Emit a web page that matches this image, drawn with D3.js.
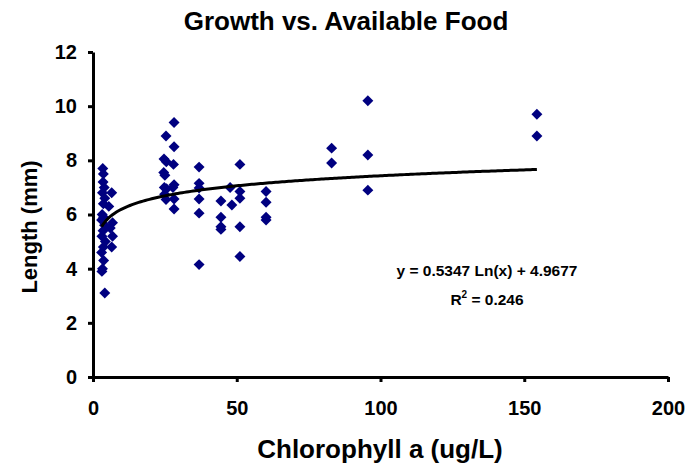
<!DOCTYPE html>
<html>
<head>
<meta charset="utf-8">
<script src="https://cdn.jsdelivr.net/npm/d3@7"></script>
<style>
  body { margin: 0; background: #fff; }
  text { font-family: "Liberation Sans", Arial, sans-serif; font-weight: bold; fill: #000; }
</style>
</head>
<body>
<div id="chart"></div>
<script>
// ########## data #######
var chlorophyll = [
  3.4, 3.6, 3.5, 3.9, 3.3, 4.1, 3.6, 3.2, 3.7, 3.0, 4.0, 3.5, 3.1, 4.3, 3.6, 3.0, 3.7, 3.3, 3.1, 4.1,
  6.5, 5.5, 6.8, 6.0, 6.8, 6.5,
  25.4, 24.7, 25.5, 24.6, 25.0, 24.8, 25.6, 25.4, 24.9,
  28.2, 28.2, 28.0, 28.2, 27.8, 28.2, 28.2,
  36.9, 36.9, 36.9, 36.9, 36.9, 36.9,
  44.5, 44.5, 44.5, 44.5, 47.7, 48.3,
  51.1, 51.1, 51.1, 51.1, 51.1,
  60.2, 60.2, 60.2, 60.2,
  83.0, 83.0,
  95.6, 95.6, 95.6,
  154.4, 154.4
];
var lengthMm = [
  7.7, 7.5, 7.2, 7.0, 6.8, 6.6, 6.4, 6.0, 5.9, 5.8, 5.6, 5.4, 5.2, 5.0, 4.8, 4.6, 4.3, 4.0, 3.9, 3.1,
  6.8, 6.3, 5.7, 5.5, 5.2, 4.8,
  8.9, 8.05, 7.95, 7.55, 7.45, 7.0, 6.95, 6.55, 6.75,
  9.4, 8.5, 7.85, 7.1, 7.0, 6.57, 6.2,
  7.75, 7.15, 6.98, 6.57, 6.05, 4.15,
  6.5, 5.9, 5.55, 5.45, 7.0, 6.35,
  7.85, 6.85, 6.6, 5.55, 4.45,
  6.85, 6.45, 5.9, 5.8,
  8.45, 7.9,
  10.2, 8.2, 6.9,
  9.7, 8.9
];
var xTicks = [0, 50, 100, 150, 200];
var yTicks = [0, 2, 4, 6, 8, 10, 12];
// logarithmic trend line: y = a ln(x) + b
var trendA = 0.5347;
var trendB = 4.9677;
var trendLabel = "y = 0.5347 Ln(x) + 4.9677";
var r2Value = "0.246";

var attrs = {
  svgWidth: 695,
  svgHeight: 468,
  marginTop: 52,
  marginBottom: 91,
  marginLeft: 93,
  marginRight: 27,
  markerColor: "#000080",
  title: "Growth vs. Available Food",
  xTitle: "Chlorophyll a (ug/L)",
  yTitle: "Length (mm)"
};

var calc = {};
calc.chartWidth = attrs.svgWidth - attrs.marginLeft - attrs.marginRight;
calc.chartHeight = attrs.svgHeight - attrs.marginTop - attrs.marginBottom;

var points = chlorophyll.map(function (d, i) {
  return { x: d, y: lengthMm[i] };
});

// ########## scales #######
var x = d3.scaleLinear().domain([0, 200]).range([0, calc.chartWidth]);
var y = d3.scaleLinear().domain([0, 12]).range([calc.chartHeight, 0]);

var svg = d3.select("#chart").append("svg")
  .attr("width", attrs.svgWidth)
  .attr("height", attrs.svgHeight);

// title
svg.append("text")
  .attr("x", 346)
  .attr("y", 30)
  .attr("text-anchor", "middle")
  .style("font-size", "26px")
  .text(attrs.title);

var chart = svg.append("g")
  .attr("transform", "translate(" + attrs.marginLeft + "," + attrs.marginTop + ")");

// ########## axes #######
var xAxis = chart.append("g")
  .attr("class", "x-axis")
  .attr("transform", "translate(0," + calc.chartHeight + ")")
  .call(d3.axisBottom(x).tickValues(xTicks).tickSize(5).tickSizeOuter(0).tickPadding(19));

var yAxis = chart.append("g")
  .attr("class", "y-axis")
  .call(d3.axisLeft(y).tickValues(yTicks).tickSize(5).tickSizeOuter(0).tickPadding(11));

chart.selectAll(".x-axis .domain, .y-axis .domain")
  .attr("stroke", "#000")
  .attr("stroke-width", 3);
chart.selectAll(".tick line")
  .attr("stroke", "#000")
  .attr("stroke-width", 3);
chart.selectAll(".tick text")
  .attr("fill", "#000")
  .style("font-size", "20px")
  .style("font-family", "'Liberation Sans', Arial, sans-serif")
  .style("font-weight", "bold");

// axis titles
svg.append("text")
  .attr("x", 380)
  .attr("y", 458)
  .attr("text-anchor", "middle")
  .style("font-size", "26px")
  .text(attrs.xTitle);

svg.append("text")
  .attr("transform", "translate(37,227) rotate(-90)")
  .attr("text-anchor", "middle")
  .style("font-size", "22px")
  .text(attrs.yTitle);

// ########## trend line #######
var xMin = d3.min(chlorophyll);
var xMax = d3.max(chlorophyll);
var trendData = d3.range(0, 201).map(function (i) {
  var xv = xMin + (xMax - xMin) * i / 200;
  return { x: xv, y: trendA * Math.log(xv) + trendB };
});

var line = d3.line()
  .x(function (d) { return x(d.x); })
  .y(function (d) { return y(d.y); });

// ########## markers #######
var diamond = d3.symbol().type(d3.symbolSquare).size(60);

chart.append("g")
  .attr("class", "points")
  .selectAll("path")
  .data(points)
  .enter()
  .append("path")
  .attr("d", diamond)
  .attr("transform", function (d) {
    return "translate(" + x(d.x) + "," + y(d.y) + ") rotate(45)";
  })
  .attr("fill", attrs.markerColor);

chart.append("path")
  .datum(trendData)
  .attr("fill", "none")
  .attr("stroke", "#000")
  .attr("stroke-width", 3)
  .attr("d", line);

// equation label
var eq = svg.append("text")
  .attr("x", 487)
  .attr("y", 276)
  .attr("text-anchor", "middle")
  .style("font-size", "15.5px")
  .text(trendLabel);

var r2 = svg.append("text")
  .attr("x", 487)
  .attr("y", 305)
  .attr("text-anchor", "middle")
  .style("font-size", "15.5px");
r2.append("tspan").text("R");
r2.append("tspan").attr("dy", -7).style("font-size", "10px").text("2");
r2.append("tspan").attr("dy", 7).text(" = " + r2Value);
</script>
</body>
</html>
